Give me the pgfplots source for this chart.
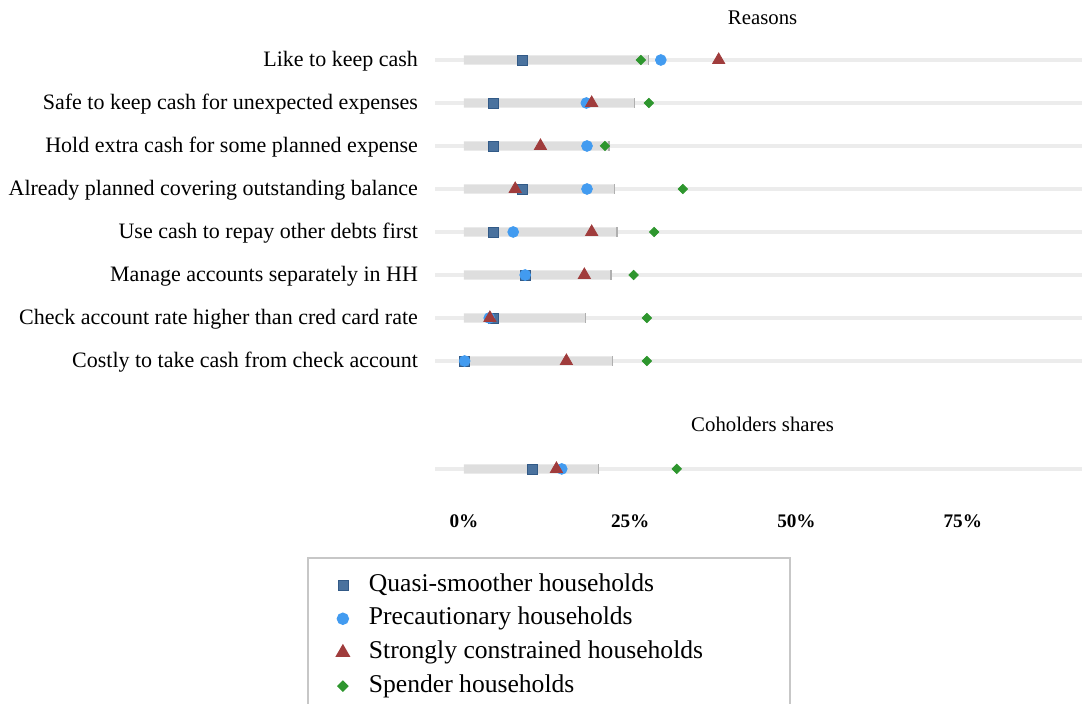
\documentclass[border=0pt]{standalone}
\usepackage{fontspec}
\setmainfont{Liberation Serif}
\usepackage{pgfplots}
\pgfplotsset{compat=1.18}
\definecolor{qs}{RGB}{74,114,158}
\definecolor{qsd}{RGB}{50,90,135}
\definecolor{pc}{RGB}{66,155,240}
\definecolor{sc}{RGB}{160,60,60}
\definecolor{sp}{RGB}{46,150,46}
\definecolor{barc}{RGB}{222,222,222}
\definecolor{barend}{RGB}{175,175,175}
\definecolor{gridc}{RGB}{236,236,236}
\newcommand{\lgd}[1]{\makebox[206pt][l]{\hspace{10pt}#1}}
\begin{document}
\begin{tikzpicture}
\begin{axis}[
  at={(0pt,0pt)}, anchor=south west,
  scale only axis, width=323.5pt, height=225.75pt,
  xmin=-4.36, xmax=92.93, ymin=-10, ymax=0.5,
  axis line style={draw=none}, tick style={draw=none},
  major tick length=0pt,
  ymajorgrids, grid style={line width=2pt, color=gridc},
  xtick={0,25,50,75}, xticklabels={0\%,25\%,50\%,75\%},
  xticklabel style={font=\bfseries\fontsize{9.6}{11}\selectfont, yshift=-9pt},
  ytick={-9.51,-7,-6,-5,-4,-3,-2,-1,0},
  yticklabels={,Costly to take cash from check account,Check account rate higher than cred card rate,Manage accounts separately in HH,Use cash to repay other debts first,Already planned covering outstanding balance,Hold extra cash for some planned expense,Safe to keep cash for unexpected expenses,Like to keep cash},
  yticklabel style={font=\fontsize{11}{13}\selectfont, xshift=-5pt, yshift=-0.6pt},
  clip=false,
  legend cell align=left,
  legend style={at={(axis description cs:-0.1978,-0.1484)}, anchor=north west,
    draw=black!22, line width=0.8pt, inner xsep=14.5pt, inner ysep=5.2pt,
    font=\fontsize{12.8}{15}\selectfont,
    nodes={inner sep=0pt, text height=11.5pt, text depth=5.35pt}},
]
% gray bars
\addplot[xbar, bar width=4.6pt, fill=barc, draw=none, forget plot] coordinates {
 (27.8,0) (25.7,-1) (21.8,-2) (22.6,-3) (23.0,-4) (22.1,-5) (18.3,-6) (22.3,-7) (20.2,-9.51)};
\addplot[only marks, mark=|, mark size=2.4pt, barend, mark options={line width=0.6pt}, forget plot] coordinates {
 (27.8,0) (25.7,-1) (21.8,-2) (22.6,-3) (23.0,-4) (22.1,-5) (18.3,-6) (22.3,-7) (20.2,-9.51)};
% Quasi-smoother
\addplot[only marks, mark=square*, mark size=2.5pt, mark options={fill=qs, draw=qsd, line width=0.3pt}] coordinates {
 (8.7,0) (4.4,-1) (4.4,-2) (8.7,-3) (4.4,-4) (9.2,-5) (4.4,-6) (0.1,-7) (10.2,-9.51)};
\addlegendentry{\lgd{Quasi-smoother households}}
% Precautionary
\addplot[only marks, mark=*, mark size=2.7pt, mark options={fill=pc, draw=pc}] coordinates {
 (29.6,0) (18.4,-1) (18.5,-2) (18.5,-3) (7.4,-4) (9.2,-5) (3.8,-6) (0.1,-7) (14.7,-9.51)};
\addlegendentry{\lgd{Precautionary households}}
% Strongly constrained
\addplot[only marks, mark=triangle*, mark size=3.5pt, mark options={fill=sc, draw=sc}] coordinates {
 (38.3,0) (19.2,-1) (11.5,-2) (7.7,-3) (19.2,-4) (18.1,-5) (3.9,-6) (15.4,-7) (13.9,-9.51)};
\addlegendentry{\lgd{Strongly constrained households}}
% Spender
\addplot[only marks, mark=square*, mark size=1.65pt, mark options={rotate=45, fill=sp, draw=sp}] coordinates {
 (26.6,0) (27.8,-1) (21.2,-2) (32.9,-3) (28.6,-4) (25.5,-5) (27.5,-6) (27.5,-7) (32.0,-9.51)};
\addlegendentry{\lgd{Spender households}}
\node[font=\fontsize{10.4}{12}\selectfont] at (axis cs:44.9,0.98) {Reasons};
\node[font=\fontsize{10.4}{12}\selectfont] at (axis cs:44.9,-8.47) {Coholders shares};
\end{axis}
\pgfresetboundingbox
\path[use as bounding box] (-217.5pt,-107pt) rectangle (323.5pt,245pt);
\end{tikzpicture}
\end{document}
